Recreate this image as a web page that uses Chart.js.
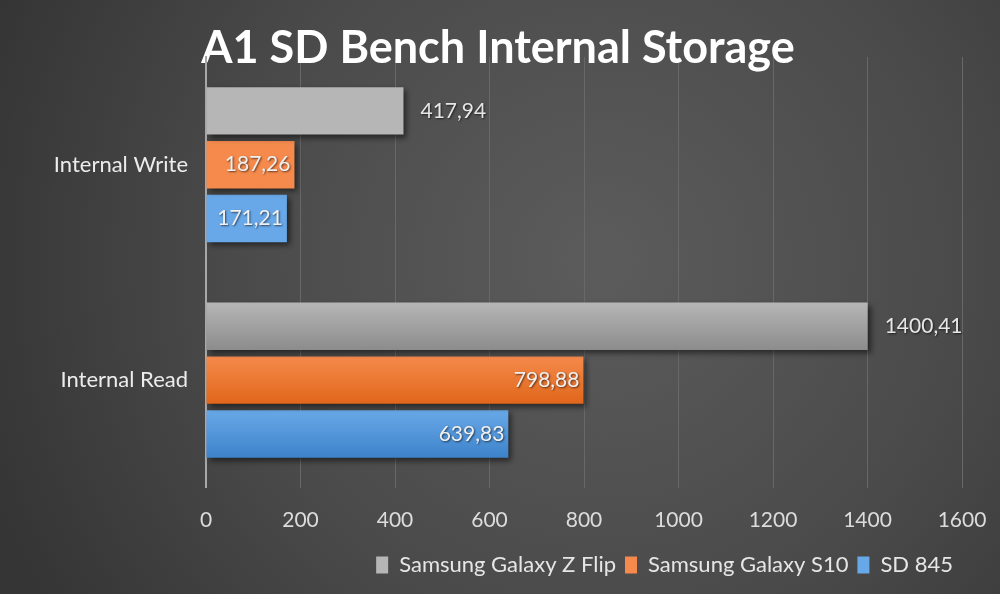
<!DOCTYPE html>
<html>
<head>
<meta charset="utf-8">
<script src="https://cdn.jsdelivr.net/npm/chart.js@4/dist/chart.umd.min.js"></script>
<style>
  html, body { margin: 0; padding: 0; background: #3c3c3c; }
  #wrap { width: 1000px; height: 594px; }
</style>
</head>
<body>
<div id="wrap"><canvas id="canvas"></canvas></div>
<script>
var categories = ['Internal Write', 'Internal Read'];
var seriesNames = ['Samsung Galaxy Z Flip', 'Samsung Galaxy S10', 'SD 845'];
var zFlip = [417.94, 1400.41];
var s10 = [187.26, 798.88];
var sd845 = [171.21, 639.83];
var xTicks = [0, 200, 400, 600, 800, 1000, 1200, 1400, 1600];

var FONT = 'Lato, "Open Sans", sans-serif';

// top / bottom colours of each bar gradient
var barColors = [
    ['#b6b6b6', '#8c8c8c'],
    ['#f58a4c', '#e0661a'],
    ['#68a8e8', '#3d83ca']
];
// data labels sit outside the grey bars, inside the others
var labelOutside = [true, false, false];

var bgPlugin = {
    id: 'bg',
    beforeDraw: function(chart) {
        var ctx = chart.ctx, w = chart.width, h = chart.height;
        var g = ctx.createRadialGradient(600, 260, 20, 600, 260, 650);
        g.addColorStop(0, '#5b5b5b');
        g.addColorStop(0.55, '#4a4a4a');
        g.addColorStop(1, '#353535');
        ctx.save();
        ctx.fillStyle = g;
        ctx.fillRect(0, 0, w, h);
        ctx.restore();
    }
};

// vertical gradient on every bar + drop shadow
var barStylePlugin = {
    id: 'barStyle',
    beforeDatasetsDraw: function(chart) {
        var ctx = chart.ctx;
        chart.data.datasets.forEach(function(ds, i) {
            chart.getDatasetMeta(i).data.forEach(function(bar) {
                var y0 = bar.y - bar.height / 2, y1 = bar.y + bar.height / 2;
                var g = ctx.createLinearGradient(0, y0, 0, y1);
                g.addColorStop(0, barColors[i][0]);
                g.addColorStop(1, barColors[i][1]);
                bar.options.backgroundColor = g;
            });
        });
        ctx.save();
        ctx.shadowColor = 'rgba(0,0,0,0.55)';
        ctx.shadowBlur = 6;
        ctx.shadowOffsetX = 3;
        ctx.shadowOffsetY = 3;
    },
    afterDatasetsDraw: function(chart) {
        chart.ctx.restore();
    }
};

var valuePlugin = {
    id: 'values',
    afterDatasetsDraw: function(chart) {
        var ctx = chart.ctx;
        ctx.save();
        ctx.font = '21px ' + FONT;
        ctx.textBaseline = 'middle';
        ctx.shadowColor = 'rgba(0,0,0,0.6)';
        ctx.shadowBlur = 2;
        ctx.shadowOffsetX = 1;
        ctx.shadowOffsetY = 1;
        chart.data.datasets.forEach(function(ds, i) {
            var meta = chart.getDatasetMeta(i);
            meta.data.forEach(function(bar, j) {
                var txt = ds.data[j].toFixed(2).replace('.', ',');
                if (labelOutside[i]) {
                    ctx.fillStyle = '#e6e6e6';
                    ctx.textAlign = 'left';
                    ctx.fillText(txt, bar.x + 17, bar.y);
                } else {
                    ctx.fillStyle = '#f0f0f0';
                    ctx.textAlign = 'right';
                    ctx.fillText(txt, bar.x - 4, bar.y);
                }
            });
        });
        ctx.restore();
    }
};

var datasets = [zFlip, s10, sd845].map(function(d, i) {
    return {
        label: seriesNames[i],
        data: d,
        backgroundColor: barColors[i][0],
        borderWidth: 0
    };
});

window.onload = function() {
    var ctx = document.getElementById('canvas').getContext('2d');
    window.myBar = new Chart(ctx, {
        type: 'bar',
        data: { labels: categories, datasets: datasets },
        plugins: [bgPlugin, barStylePlugin, valuePlugin],
        options: {
            indexAxis: 'y',
            responsive: true,
            maintainAspectRatio: false,
            animation: false,
            categoryPercentage: 0.75,
            barPercentage: 0.88,
            layout: { padding: { left: 34, right: 38, top: 0, bottom: 8 } },
            scales: {
                x: {
                    min: 0,
                    max: 1600,
                    afterBuildTicks: function(scale) {
                        scale.ticks = xTicks.map(function(v) { return { value: v }; });
                    },
                    afterFit: function(scale) { scale.height += 9; },
                    grid: { color: '#686868', lineWidth: 1, drawTicks: true, tickLength: 17, tickColor: 'rgba(0,0,0,0)' },
                    border: { display: false },
                    ticks: {
                        color: '#dcdcdc',
                        padding: 3,
                        font: { family: FONT, size: 21 },
                        callback: function(v) { return String(v); }
                    }
                },
                y: {
                    afterFit: function(scale) { scale.width = 172; },
                    grid: { display: false, drawTicks: false },
                    border: { display: true, color: '#a8a8a8', width: 2 },
                    ticks: {
                        color: '#ececec',
                        padding: 18,
                        font: { family: FONT, size: 22 }
                    }
                }
            },
            plugins: {
                title: {
                    display: true,
                    text: 'A1 SD Bench Internal Storage',
                    color: '#ffffff',
                    font: { family: FONT, size: 45, weight: 'bold', lineHeight: 1.0 },
                    padding: { top: 26, bottom: -14 }
                },
                legend: {
                    position: 'bottom',
                    align: 'end',
                    fullSize: false,
                    labels: {
                        color: '#e6e6e6',
                        boxWidth: 12,
                        boxHeight: 17,
                        padding: 9,
                        font: { family: FONT, size: 22 },
                        generateLabels: function(chart) {
                            return seriesNames.map(function(n, i) {
                                return {
                                    text: n,
                                    fillStyle: barColors[i][0],
                                    strokeStyle: barColors[i][0],
                                    lineWidth: 0,
                                    fontColor: '#e6e6e6',
                                    datasetIndex: i
                                };
                            });
                        }
                    }
                },
                tooltip: { enabled: false }
            }
        }
    });
};
</script>
</body>
</html>
